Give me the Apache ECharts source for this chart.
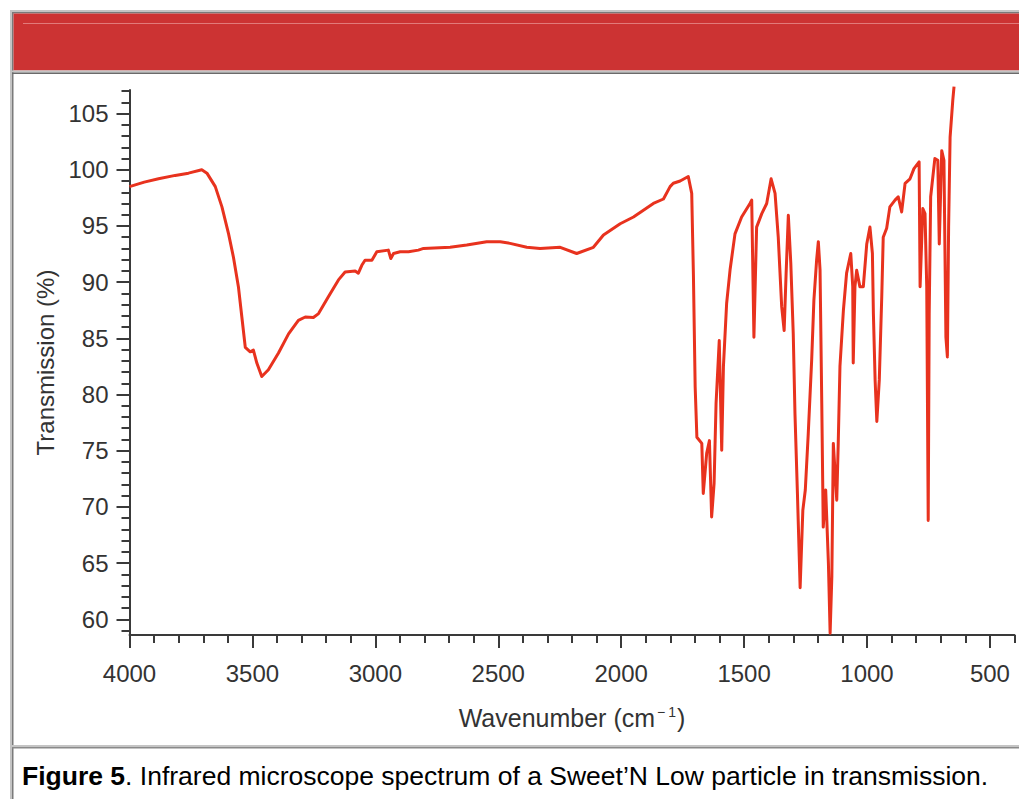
<!DOCTYPE html>
<html>
<head>
<meta charset="utf-8">
<script src="https://cdn.jsdelivr.net/npm/echarts@6/dist/echarts.min.js"></script>
<style>
html,body{margin:0;padding:0;background:#fff;}
#chart{width:1019px;height:799px;}
</style>
</head>
<body>
<div id="chart"></div>
<script>
// Data
var wavenumbers = [4000,3940,3882,3814,3760,3706,3685,3651,3624,3597,3577,3557,3543,3529,3509,3496,3482,3462,3435,3394,3353,3313,3285,3252,3231,3191,3150,3123,3082,3069,3055,3042,3014,2994,2947,2937,2926,2899,2865,2825,2804,2696,2628,2547,2492,2452,2384,2330,2248,2181,2113,2072,2004,1950,1869,1828,1801,1788,1760,1727,1713,1706,1699,1692,1672,1666,1652,1641,1632,1622,1614,1601,1591,1584,1571,1557,1537,1510,1476,1469,1460,1449,1428,1408,1390,1374,1361,1347,1337,1329,1320,1310,1300,1293,1283,1272,1261,1251,1239,1225,1216,1205,1198,1191,1184,1178,1168,1157,1150,1143,1137,1123,1117,1110,1096,1083,1066,1058,1056,1049,1042,1029,1015,1001,988,978,974,967,960,950,940,934,920,907,886,873,859,845,825,809,788,784,773,764,757,751,747,741,724,712,706,696,687,679,673,668,662,651,646];
var transmission = [98.5,98.9,99.2,99.5,99.7,100.0,99.7,98.5,96.7,94.3,92.2,89.6,86.9,84.2,83.8,83.95,82.8,81.6,82.2,83.7,85.4,86.6,86.9,86.85,87.2,88.7,90.2,90.9,91.0,90.8,91.5,91.95,91.95,92.7,92.85,92.1,92.55,92.7,92.7,92.85,93.0,93.1,93.3,93.6,93.6,93.45,93.1,93.0,93.1,92.55,93.1,94.2,95.2,95.8,97.0,97.4,98.5,98.8,99.0,99.4,97.9,90.5,80.7,76.2,75.65,71.2,74.8,75.9,69.1,72.1,79.2,84.8,75.05,82.5,88.1,91.1,94.3,95.8,97.0,97.3,85.1,94.9,96.1,97.0,99.2,97.9,94.0,87.8,85.7,90.8,95.95,91.7,85.4,78.3,71.2,62.8,69.7,71.5,76.5,83.1,88.4,91.95,93.6,91.1,79.2,68.2,71.5,65.0,58.75,63.8,75.65,70.6,75.65,82.5,87.5,90.8,92.55,89.6,82.8,89.6,91.05,89.6,89.6,93.4,94.9,92.55,87.2,81.3,77.6,81.3,88.7,94.0,94.8,96.7,97.3,97.6,96.25,98.8,99.2,100.1,100.7,89.6,96.55,96.1,89.6,68.8,87.2,97.6,101.0,100.85,93.4,101.7,100.85,85.1,83.35,94.9,102.9,106.2,107.4];

var xMajorTicks = [4000,3500,3000,2500,2000,1500,1000,500];
var xMinorTicks = [];
for (var v = 400; v <= 4000; v += 100) xMinorTicks.push(v);
var yMajorTicks = [60,65,70,75,80,85,90,95,100,105];
var yMinorTicks = [];
for (var u = 59; u <= 107; u += 1) yMinorTicks.push(u);

var xTitle = 'Wavenumber (cm';
var yTitle = 'Transmission (%)';
var captionBold = 'Figure 5';
var captionRest = '. Infrared microscope spectrum of a Sweet\u2019N Low particle in transmission.';

var seriesData = wavenumbers.map(function (w, i) { return [w, transmission[i]]; });

var axisColor = '#3a3a3a';
var font = 'Arial, "Liberation Sans", sans-serif';
var X_MIN = 400, X_MAX = 4000, Y_MIN = 58.6, Y_MAX = 107.1;
function plain(val) { return String(val); }

var chart = echarts.init(document.getElementById('chart'), null, {renderer: 'svg'});
chart.setOption({
  animation: false,
  backgroundColor: '#ffffff',
  grid: {left: 129.5, right: 4.5, top: 90, bottom: 164, containLabel: false},
  xAxis: [{
    type: 'value', min: X_MIN, max: X_MAX, inverse: true, position: 'bottom',
    axisLine: {show: true, onZero: false, lineStyle: {color: axisColor, width: 2}},
    axisTick: {show: true, inside: false, length: 13, customValues: xMajorTicks, lineStyle: {color: axisColor, width: 2}},
    axisLabel: {show: true, customValues: xMajorTicks, formatter: plain, margin: 26, fontSize: 24, color: '#333', fontFamily: font},
    splitLine: {show: false},
    name: '{a|' + xTitle + '}{s|\u2212}{s|1}{a|)}',
    nameLocation: 'middle', nameGap: 70,
    nameTextStyle: {
      fontSize: 25, color: '#333', fontFamily: font,
      rich: {
        a: {fontSize: 25, color: '#333', fontFamily: font},
        s: {fontSize: 14, color: '#333', fontFamily: font, verticalAlign: 'top', padding: [0, 1, 0, 2]}
      }
    }
  }, {
    type: 'value', min: X_MIN, max: X_MAX, inverse: true, position: 'bottom',
    axisLine: {show: false, onZero: false},
    axisTick: {show: true, inside: false, length: 8, customValues: xMinorTicks, lineStyle: {color: axisColor, width: 2}},
    axisLabel: {show: false},
    splitLine: {show: false}
  }],
  yAxis: [{
    type: 'value', min: Y_MIN, max: Y_MAX, position: 'left',
    axisLine: {show: true, onZero: false, lineStyle: {color: axisColor, width: 2}},
    axisTick: {show: true, inside: false, length: 13, customValues: yMajorTicks, lineStyle: {color: axisColor, width: 2}},
    axisLabel: {show: true, customValues: yMajorTicks, formatter: plain, margin: 21, fontSize: 24, color: '#333', fontFamily: font},
    splitLine: {show: false},
    name: yTitle, nameLocation: 'middle', nameGap: 72,
    nameTextStyle: {fontSize: 24, color: '#333', fontFamily: font}
  }, {
    type: 'value', min: Y_MIN, max: Y_MAX, position: 'left',
    axisLine: {show: false, onZero: false},
    axisTick: {show: true, inside: false, length: 8, customValues: yMinorTicks, lineStyle: {color: axisColor, width: 2}},
    axisLabel: {show: false},
    splitLine: {show: false}
  }],
  series: [{
    type: 'line', xAxisIndex: 0, yAxisIndex: 0,
    data: seriesData, showSymbol: false, symbol: 'none', clip: false,
    lineStyle: {color: '#e8321e', width: 3, join: 'round'},
    itemStyle: {color: '#e8321e'}
  }],
  graphic: [
    // outer frame
    {type: 'rect', shape: {x: 10, y: 10, width: 1009, height: 2}, style: {fill: '#c4c4c4'}, silent: true},
    {type: 'rect', shape: {x: 10, y: 10, width: 2, height: 789}, style: {fill: '#c4c4c4'}, silent: true},
    {type: 'rect', shape: {x: 12, y: 12, width: 1007, height: 1.5}, style: {fill: '#7a7a7a'}, silent: true},
    {type: 'rect', shape: {x: 12, y: 12, width: 1.5, height: 787}, style: {fill: '#7a7a7a'}, silent: true},
    // red header band
    {type: 'rect', shape: {x: 13.5, y: 13.5, width: 1006, height: 57}, style: {fill: '#cc3333'}, silent: true},
    {type: 'line', shape: {x1: 23, y1: 23.5, x2: 1019, y2: 23.5}, style: {stroke: '#e27a7a', lineWidth: 1}, silent: true},
    {type: 'rect', shape: {x: 12, y: 70.5, width: 1007, height: 2}, style: {fill: '#c4c4c4'}, silent: true},
    {type: 'rect', shape: {x: 12, y: 72.5, width: 1007, height: 1.5}, style: {fill: '#6a6a6a'}, silent: true},
    // caption separator
    {type: 'rect', shape: {x: 12, y: 745, width: 1007, height: 2}, style: {fill: '#c4c4c4'}, silent: true},
    {type: 'rect', shape: {x: 12, y: 747, width: 1007, height: 1.5}, style: {fill: '#8a8a8a'}, silent: true},
    // caption text
    {
      type: 'text', x: 22, y: 776, silent: true,
      style: {
        text: '{b|' + captionBold + '}{n|' + captionRest + '}',
        verticalAlign: 'middle', align: 'left',
        rich: {
          b: {fontSize: 26.5, fontWeight: 'bold', fill: '#000', fontFamily: font},
          n: {fontSize: 26.5, fill: '#000', fontFamily: font}
        }
      }
    }
  ]
});
</script>
</body>
</html>
